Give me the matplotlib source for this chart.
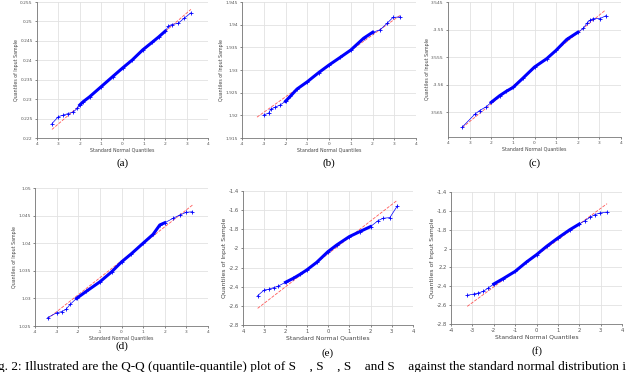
import numpy as np
import matplotlib.pyplot as plt

# Q-Q points: standard normal quantile vs sample quantile
qa = [-3.3, -3.0, -2.77, -2.54, -2.3, -2.12, -2.0, -1.85, -1.54, -1.0, -0.46, 0.0,
      0.46, 0.95, 1.38, 1.69, 2.0, 2.15, 2.3, 2.6, 2.9, 3.2]
sa = [0.2237, 0.2255, 0.2259, 0.2263, 0.2267, 0.2276, 0.2285, 0.2293, 0.2306, 0.2332,
      0.2358, 0.2380, 0.2401, 0.2427, 0.2446, 0.2460, 0.2475, 0.2488, 0.2492, 0.2495,
      0.2509, 0.2522]
refa_x = [-3.3, 3.2]
refa_y = [0.2222, 0.2531]

qb = [-3.0, -2.77, -2.67, -2.47, -2.24, -2.0, -1.78, -1.47, -1.0, -0.48, 0.0, 0.52,
      1.0, 1.59, 2.0, 2.36, 2.67, 2.94, 3.28]
sb = [1.9201, 1.9205, 1.9214, 1.9218, 1.9223, 1.9231, 1.9242, 1.9258, 1.9274, 1.9294,
      1.9311, 1.9328, 1.9344, 1.9370, 1.9383, 1.9389, 1.9403, 1.9416, 1.9417]
refb_x = [-3.31, 3.31]
refb_y = [1.9196, 1.9422]

qc = [-3.34, -2.77, -2.54, -2.23, -2.0, -1.61, -1.30, -0.99, -0.53, 0.0, 0.56, 0.99,
      1.49, 2.0, 2.26, 2.41, 2.57, 2.72, 3.03, 3.30]
sc = [-3.5677, -3.5654, -3.5647, -3.5640, -3.5632, -3.5620, -3.5612, -3.5605, -3.5588,
      -3.5568, -3.5553, -3.5538, -3.5518, -3.5505, -3.5498, -3.5489, -3.5483, -3.5480,
      -3.5480, -3.5475]
refc_x = [-3.34, 3.27]
refc_y = [-3.5678, -3.5465]

qd = [-3.42, -3.0, -2.77, -2.57, -2.38, -2.08, -1.62, -1.0, -0.46, 0.0, 0.46, 1.0,
      1.46, 1.77, 2.0, 2.38, 2.69, 3.0, 3.28]
sd = [1.0265, 1.0274, 1.0276, 1.0280, 1.0289, 1.0300, 1.0313, 1.0330, 1.0348, 1.0366,
      1.0381, 1.0400, 1.0416, 1.0433, 1.0437, 1.0445, 1.0451, 1.0456, 1.0457]
refd_x = [-3.42, 3.28]
refd_y = [1.0263, 1.0469]

qe = [-3.31, -3.0, -2.8, -2.56, -2.33, -2.0, -1.63, -1.31, -1.0, -0.53, 0.0, 0.41,
      1.0, 1.5, 2.0, 2.36, 2.59, 2.91, 3.27]
se = [-2.493, -2.434, -2.427, -2.41, -2.392, -2.354, -2.312, -2.27, -2.225, -2.145,
      -2.033, -1.964, -1.877, -1.824, -1.772, -1.709, -1.685, -1.678, -1.553]
refe_x = [-3.31, 3.22]
refe_y = [-2.626, -1.504]

qf = [-3.24, -2.93, -2.72, -2.49, -2.26, -2.0, -1.56, -1.0, -0.47, 0.0, 0.47, 1.0,
      1.56, 2.0, 2.26, 2.49, 2.72, 2.96, 3.3]
sf = [-2.496, -2.482, -2.471, -2.454, -2.418, -2.376, -2.319, -2.242, -2.143, -2.065,
      -1.977, -1.888, -1.8, -1.74, -1.705, -1.67, -1.641, -1.623, -1.613]
reff_x = [-3.24, 3.3]
reff_y = [-2.613, -1.524]

xt_plain = ['4', '3', '2', '1', '0', '1', '2', '3', '4']
xt_minus = ['-4', '-3', '-2', '-1', '0', '1', '2', '3', '4']

W, H = 640, 372
fig = plt.figure(figsize=(W / 100, H / 100), dpi=100)


def box(l, t, r, b):
    return [l / W, 1 - b / H, (r - l) / W, (b - t) / H]


def qq(rect, q, s, rx, ry, ylim, yticks, ylabels, xlabels, fs, lfs, cap, cap_y):
    ax = fig.add_axes(box(*rect))
    q = np.asarray(q)
    s = np.asarray(s)
    dense = np.abs(q) <= 2.1
    ax.plot(rx, ry, '--', color='#ff3030', lw=0.6, alpha=0.8, zorder=2)
    ax.plot(q, s, color='#0000ff', lw=0.5, zorder=3)
    ax.plot(q[dense], s[dense], color='#0000ff', lw=2.2, zorder=3)
    ax.plot(q, s, '+', color='#0000ff', ms=2.5, mew=0.6, zorder=4)
    ax.set_xlim(-4, 4)
    ax.set_ylim(*ylim)
    ax.set_xticks(range(-4, 5))
    ax.set_xticklabels(xlabels)
    ax.set_yticks(yticks)
    ax.set_yticklabels(ylabels)
    ax.grid(True, color='#e2e2e2', lw=0.6)
    ax.set_axisbelow(True)
    for side in ['top', 'right']:
        ax.spines[side].set_visible(False)
    for side in ['left', 'bottom']:
        ax.spines[side].set_color('#777777')
        ax.spines[side].set_linewidth(0.6)
    ax.tick_params(labelsize=fs, colors='#555555', length=1.5, width=0.5, pad=1.5)
    ax.set_xlabel('Standard Normal Quantiles', fontsize=lfs, color='#444444', labelpad=1.2)
    ax.set_ylabel('Quantiles of Input Sample', fontsize=lfs, color='#444444', labelpad=0.8)
    cx = (rect[0] + rect[2]) / 2 / W
    fig.text(cx, 1 - cap_y / H, cap, ha='center', va='center',
             fontsize=8, family='Liberation Serif')
    return ax


qq((37, 2, 208, 138), qa, sa, refa_x, refa_y, (0.22, 0.255),
   [0.22, 0.225, 0.23, 0.235, 0.24, 0.245, 0.25, 0.255],
   ['0.22', '0.225', '0.23', '0.235', '0.24', '0.245', '0.25', '0.255'],
   xt_plain, 3.2, 3.4, '(a)', 163)
qq((242, 2, 416, 138), qb, sb, refb_x, refb_y, (1.915, 1.945),
   [1.915, 1.92, 1.925, 1.93, 1.935, 1.94, 1.945],
   ['1.915', '1.92', '1.925', '1.93', '1.935', '1.94', '1.945'],
   xt_minus, 3.2, 3.4, '(b)', 163)
qq((448, 2, 621, 137), qc, sc, refc_x, refc_y, (-3.5695, -3.545),
   [-3.565, -3.56, -3.555, -3.55, -3.545],
   ['3.565', '-3.56', '3.555', '-3.55', '3.545'],
   xt_plain, 3.2, 3.4, '(c)', 163)
qq((35, 188, 208, 326), qd, sd, refd_x, refd_y, (1.025, 1.05),
   [1.025, 1.03, 1.035, 1.04, 1.045, 1.05],
   ['1.025', '1.03', '1.035', '1.04', '1.045', '1.05'],
   xt_minus, 3.2, 3.4, '(d)', 346)
qq((243, 191, 413, 325), qe, se, refe_x, refe_y, (-2.8, -1.4),
   [-2.8, -2.6, -2.4, -2.2, -2.0, -1.8, -1.6, -1.4],
   ['-2.8', '-2.6', '-2.4', '-2.2', '-2', '-1.8', '-1.6', '-1.4'],
   xt_plain, 3.8, 4.4, '(e)', 353)
qq((451, 192, 622, 324), qf, sf, reff_x, reff_y, (-2.8, -1.4),
   [-2.8, -2.6, -2.4, -2.2, -2.0, -1.8, -1.6, -1.4],
   ['-2.8', '-2.6', '-2.4', '2.2', '2', '-1.8', '-1.6', '-1.4'],
   xt_minus, 3.8, 4.4, '(f)', 351)

fig.text(-2 / W, 1 - 370 / H,
         'g. 2: Illustrated are the Q-Q (quantile-quantile) plot of S    , S    , S    '
         'and S    against the standard normal distribution i',
         ha='left', va='baseline', fontsize=9.5, family='Liberation Serif')

fig.savefig('out.png', dpi=100)
